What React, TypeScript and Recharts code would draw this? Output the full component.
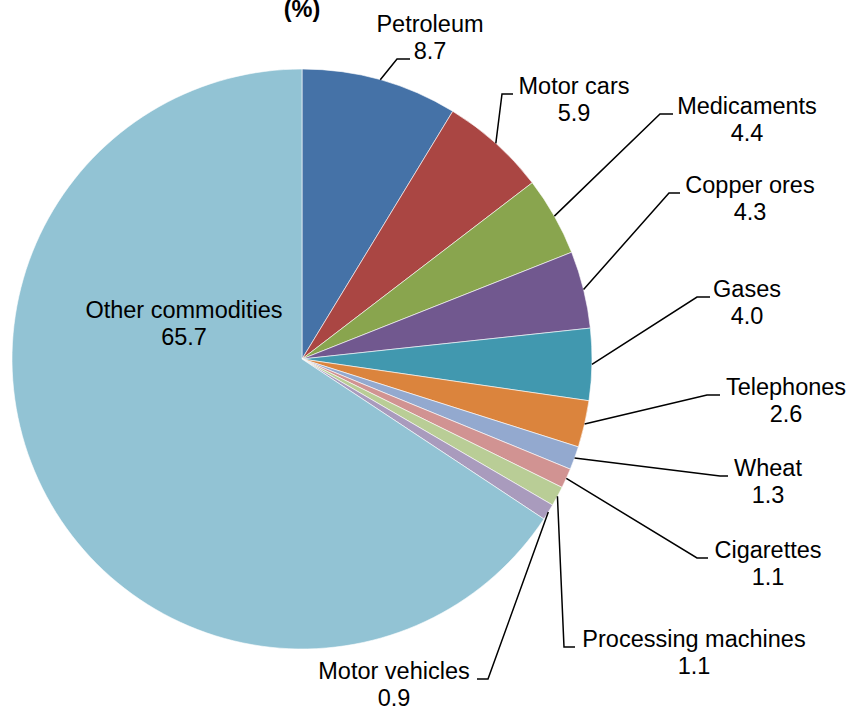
import { PieChart, Pie, Cell } from 'recharts';

const commodities = [
  'Petroleum',
  'Motor cars',
  'Medicaments',
  'Copper ores',
  'Gases',
  'Telephones',
  'Wheat',
  'Cigarettes',
  'Processing machines',
  'Motor vehicles',
  'Other commodities',
];
const shares = [8.7, 5.9, 4.4, 4.3, 4.0, 2.6, 1.3, 1.1, 1.1, 0.9, 65.7];
const colors = [
  '#4572A7',
  '#AA4643',
  '#89A54E',
  '#71588F',
  '#4198AF',
  '#DB843D',
  '#93A9CF',
  '#D19392',
  '#B9CD96',
  '#A99BBD',
  '#92C3D4',
];

// where each label sits: text centre, first baseline, leader bend and end
const labelLayout = [
  { tx: 430, ty: 32, bx: 397, by: 59, ex: 410 },
  { tx: 574, ty: 94, bx: 502, by: 94, ex: 513 },
  { tx: 747, ty: 114, bx: 660, by: 114, ex: 673 },
  { tx: 750, ty: 193, bx: 669, by: 193, ex: 680 },
  { tx: 747, ty: 297, bx: 697, by: 297, ex: 710 },
  { tx: 786, ty: 395, bx: 707, by: 395, ex: 720 },
  { tx: 768, ty: 476, bx: 720, by: 476, ex: 728 },
  { tx: 768, ty: 558, bx: 697, by: 558, ex: 708 },
  { tx: 694, ty: 647, bx: 564, by: 647, ex: 575 },
  { tx: 394, ty: 679, bx: 488, by: 679, ex: 477 },
  { tx: 184, ty: 318, bx: null, by: null, ex: null },
];

const data = commodities.map((name, i) => ({ name, value: shares[i] }));

const FONT = 'Arial, "Liberation Sans", sans-serif';
const RADIAN = Math.PI / 180;

// eslint-disable-next-line @typescript-eslint/no-explicit-any
function renderLabel(props: any) {
  const { cx, cy, midAngle, outerRadius, index } = props;
  const l = labelLayout[index];
  const sx = cx + outerRadius * Math.cos(-midAngle * RADIAN);
  const sy = cy + outerRadius * Math.sin(-midAngle * RADIAN);
  return (
    <g key={`lbl-${index}`}>
      {l.bx !== null && (
        <polyline
          points={`${sx},${sy} ${l.bx},${l.by} ${l.ex},${l.by}`}
          fill="none"
          stroke="#000"
          strokeWidth={1.5}
        />
      )}
      <text
        x={l.tx}
        y={l.ty}
        textAnchor="middle"
        fontFamily={FONT}
        fontSize={23.5}
        fill="#000"
      >
        {commodities[index]}
      </text>
      <text
        x={l.tx}
        y={l.ty + 27}
        textAnchor="middle"
        fontFamily={FONT}
        fontSize={23.5}
        fill="#000"
      >
        {shares[index].toFixed(1)}
      </text>
    </g>
  );
}

export default function App() {
  return (
    <div style={{ position: 'absolute', left: 0, top: 0, width: 850, height: 708, background: '#fff' }}>
      <PieChart width={850} height={708} margin={{ top: 0, right: 0, bottom: 0, left: 0 }}>
        <text
          x={302}
          y={17}
          textAnchor="middle"
          fontFamily={FONT}
          fontSize={23.5}
          fontWeight="bold"
          fill="#000"
        >
          (%)
        </text>
        <Pie
          data={data}
          dataKey="value"
          nameKey="name"
          cx={302}
          cy={359}
          outerRadius={290}
          startAngle={90}
          endAngle={-270}
          stroke="#fff"
          strokeWidth={0.6}
          label={renderLabel}
          labelLine={false}
          isAnimationActive={false}
        >
          {data.map((d, i) => (
            <Cell key={d.name} fill={colors[i]} />
          ))}
        </Pie>
      </PieChart>
    </div>
  );
}
